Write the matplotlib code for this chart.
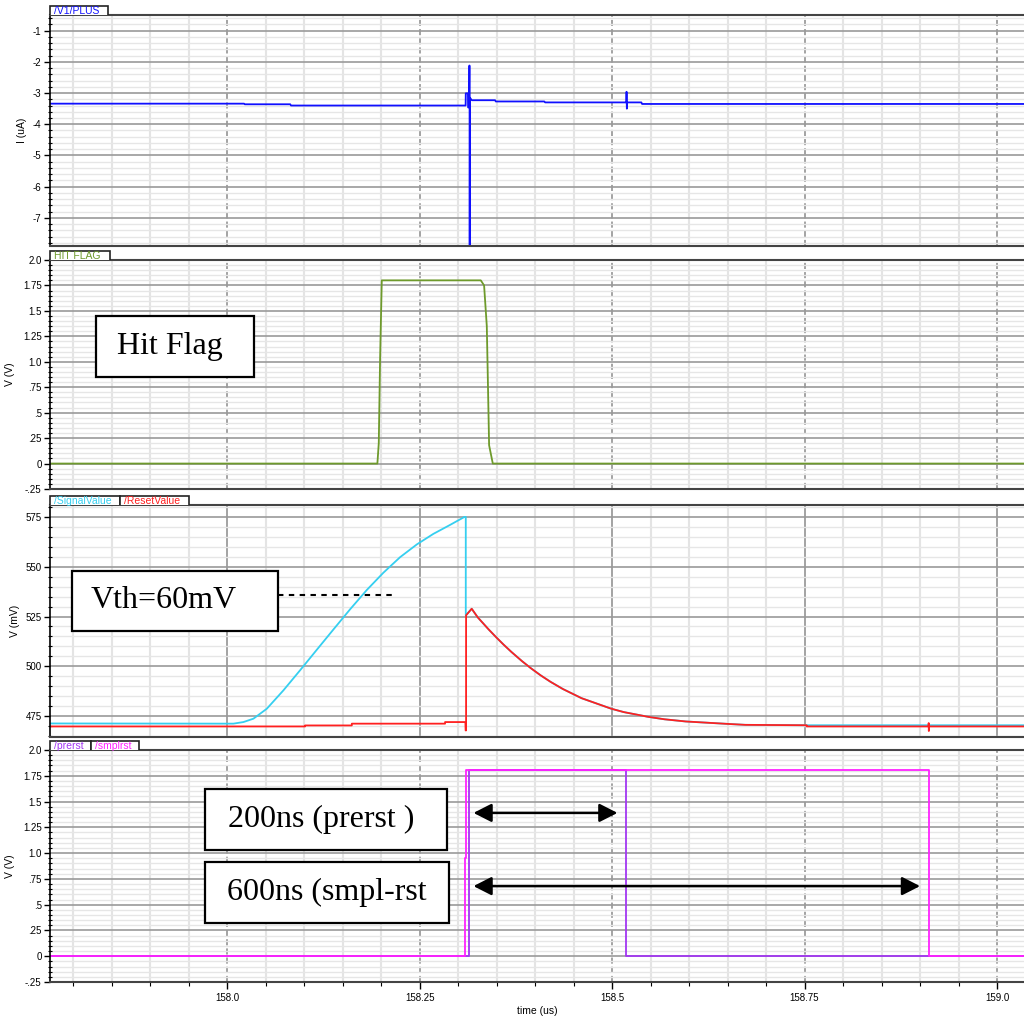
import matplotlib
matplotlib.use("Agg")
import matplotlib.pyplot as plt
from matplotlib.patches import Rectangle, Polygon
from matplotlib.ticker import MultipleLocator, FixedLocator

# ---------------- data (time in us) ----------------
t_plus = [157.77, 158.022, 158.023, 158.082, 158.083, 158.3098, 158.3100, 158.3128, 158.3130,
          158.3144, 158.3146, 158.3149, 158.3151, 158.3154, 158.3178, 158.348, 158.349,
          158.412, 158.413, 158.5185, 158.5188, 158.5192, 158.5196, 158.538, 158.539, 159.04]
i_plus = [-3.34, -3.34, -3.36, -3.36, -3.40, -3.40, -3.01, -3.01, -3.46,
          -3.46, -2.12, -2.12, -8.50, -3.15, -3.23, -3.23, -3.27,
          -3.27, -3.30, -3.30, -2.96, -3.50, -3.30, -3.30, -3.35, -3.35]

t_hit = [157.77, 158.1952, 158.1970, 158.1987, 158.2009, 158.3295, 158.3338, 158.3373,
         158.3386, 158.3403, 158.3451, 159.04]
v_hit = [0.0, 0.0, 0.20, 1.02, 1.80, 1.80, 1.75, 1.35, 0.85, 0.18, 0.0, 0.0]

t_decay = [158.3177, 158.3255, 158.3395, 158.3497, 158.3588, 158.3693, 158.3830, 158.3947,
           158.4071, 158.4201, 158.4361, 158.4603, 158.4990, 158.5153, 158.5473, 158.5680,
           158.5956, 158.6536, 158.6730, 158.7527]
v_decay = [528.9, 524.6, 518.6, 514.5, 511.0, 507.2, 502.6, 499.0,
           495.5, 492.2, 488.6, 484.0, 478.7, 477.0, 474.6, 473.4,
           472.3, 471.0, 470.6, 470.4]

t_sig_rise = [157.77, 158.0082, 158.0212, 158.0342, 158.0516, 158.0731, 158.0948, 158.1165,
              158.1381, 158.1597, 158.1814, 158.2030, 158.2247, 158.2464, 158.2679,
              158.2896, 158.3082, 158.3100, 158.3100]
v_sig_rise = [471.3, 471.2, 472.0, 473.7, 478.7, 487.9, 498.0, 508.3, 518.5, 528.6, 538.3,
              547.0, 554.8, 561.2, 566.5, 571.0, 575.0, 575.0, 525.6]
t_sig_tail = [158.7527, 159.04]
v_sig_tail = [470.4, 470.4]

t_rst_base = [157.77, 158.1013, 158.1013, 158.162, 158.162, 158.2831, 158.2831, 158.3095,
              158.3098, 158.3104, 158.3104]
v_rst_base = [469.8, 469.8, 470.3, 470.3, 471.2, 471.2, 472.0, 472.0, 467.8, 467.8, 525.6]
t_rst_tail = [158.7527, 158.7527, 158.9110, 158.9112, 158.9114, 158.9116, 159.04]
v_rst_tail = [470.4, 469.8, 469.8, 471.5, 467.5, 469.8, 469.8]

t_prerst = [157.77, 158.3143, 158.3143, 158.5182, 158.5182, 159.04]
v_prerst = [0.0, 0.0, 1.81, 1.81, 0.0, 0.0]
t_smplrst = [157.77, 158.3090, 158.3090, 158.3104, 158.3104, 158.9117, 158.9117, 159.04]
v_smplrst = [0.0, 0.0, 0.95, 0.95, 1.81, 1.81, 0.0, 0.0]

vth_level = 535.7
vth_span = (158.066, 158.218)
arrow_prerst = (158.320, 158.507, 1.39)
arrow_smplrst = (158.320, 158.900, 0.68)

x_ticks = [158.0, 158.25, 158.5, 158.75, 159.0]
x_ticklabels = ["158.0", "158.25", "158.5", "158.75", "159.0"]
i_ticks = [-1, -2, -3, -4, -5, -6, -7]
i_ticklabels = ["-1", "-2", "-3", "-4", "-5", "-6", "-7"]
v_ticks = [2.0, 1.75, 1.5, 1.25, 1.0, 0.75, 0.5, 0.25, 0.0, -0.25]
v_ticklabels = ["2.0", "1.75", "1.5", "1.25", "1.0", ".75", ".5", ".25", "0", "-.25"]
mv_ticks = [475, 500, 525, 550, 575]
mv_ticklabels = ["475", "500", "525", "550", "575"]

# ---------------- figure layout ----------------
W, H = 1024, 1021
fig = plt.figure(figsize=(W / 100, H / 100), dpi=100)
SANS = ["Liberation Sans", "DejaVu Sans"]
SERIF = ["Liberation Serif", "DejaVu Serif"]
plt.rcParams["font.family"] = SANS

LEFT, RIGHT = 50, 1024
panels_px = [(15, 246), (260, 489), (505, 737), (750, 982)]


def px(x, y):
    return (x / W, 1 - y / H)


def make_axes(top, bottom):
    return fig.add_axes([LEFT / W, 1 - bottom / H, (RIGHT - LEFT) / W, (bottom - top) / H])


def style_axes(ax, ylim, yticks, ylabels, yminor, ylabel, label_x, dashed_major=True):
    ax.set_xlim(157.77, 159.035)
    ax.set_ylim(*ylim)
    ax.xaxis.set_major_locator(FixedLocator(x_ticks))
    ax.xaxis.set_minor_locator(MultipleLocator(0.05))
    ax.yaxis.set_major_locator(FixedLocator(yticks))
    ax.set_yticklabels(ylabels)
    ax.yaxis.set_minor_locator(MultipleLocator(yminor))
    ax.set_axisbelow(True)
    ax.grid(which="minor", axis="x", color="#E4E4E4", lw=1.5)
    ax.grid(which="major", axis="x", color="#8A8A8A", lw=1.1,
            ls=(0, (4, 2)) if dashed_major else "-")
    ax.grid(which="minor", axis="y", color="#E6E6E6", lw=1.0)
    ax.grid(which="major", axis="y", color="#9A9A9A", lw=1.2)
    ax.spines["right"].set_visible(False)
    ax.spines["left"].set_color("black")
    ax.spines["left"].set_linewidth(1.2)
    for s in ("top", "bottom"):
        ax.spines[s].set_color("#444444")
        ax.spines[s].set_linewidth(1.5)
    ax.tick_params(axis="y", which="major", direction="out", length=4, width=1,
                   labelsize=7, pad=2, colors="black")
    ax.tick_params(axis="y", which="minor", direction="inout", length=3, width=0.8)
    ax.tick_params(axis="x", which="both", bottom=False, labelbottom=False)
    ax.set_ylabel(ylabel, fontsize=7.5)
    ax.yaxis.set_label_coords(label_x, 0.5)


def draw_tabs(top_px, tabs):
    th = 9
    for x0, x1, label, color in tabs:
        poly = Polygon([px(x0, top_px), px(x0, top_px - th), px(x1, top_px - th), px(x1, top_px)],
                       closed=False, facecolor="white", edgecolor="#222222", lw=1.2,
                       transform=fig.transFigure, zorder=5)
        fig.add_artist(poly)
        fig.text(*px(x0 + 4, top_px - th / 2 + 0.5), label, color=color, fontsize=7.5,
                 ha="left", va="center", zorder=6)


def note_box(x0, y0, x1, y1, text, tx):
    rect = Rectangle(px(x0, y1), (x1 - x0) / W, (y1 - y0) / H, facecolor="white",
                     edgecolor="black", lw=1.6, transform=fig.transFigure, zorder=7)
    fig.add_artist(rect)
    fig.text(*px(tx, (y0 + y1) / 2), text, family=SERIF, fontsize=23, ha="center",
             va="center", color="black", zorder=8)


# ---- panel 1: current ----
ax1 = make_axes(*panels_px[0])
style_axes(ax1, (-7.9, -0.5), i_ticks, i_ticklabels, 0.2, "I (uA)", -0.024)
ax1.plot(t_plus, i_plus, color="#1010FF", lw=1.3)

# ---- panel 2: hit flag ----
ax2 = make_axes(*panels_px[1])
style_axes(ax2, (-0.25, 2.0), v_ticks, v_ticklabels, 0.05, "V (V)", -0.036)
ax2.plot(t_hit, v_hit, color="#6E9A2C", lw=1.3)

# ---- panel 3: signal / reset value ----
ax3 = make_axes(*panels_px[2])
style_axes(ax3, (464.5, 581.0), mv_ticks, mv_ticklabels, 5, "V (mV)", -0.031,
           dashed_major=False)
ax3.plot(t_sig_rise + t_decay + t_sig_tail, v_sig_rise + v_decay + v_sig_tail,
         color="#35CFF0", lw=1.3)
ax3.plot(t_rst_base + t_decay + t_rst_tail, v_rst_base + v_decay + v_rst_tail,
         color="#FF2020", lw=1.3)
ax3.hlines(vth_level, *vth_span, colors="black", lw=1.5, linestyles=(0, (2.6, 2.6)), zorder=6)

# ---- panel 4: reset pulses ----
ax4 = make_axes(*panels_px[3])
style_axes(ax4, (-0.25, 2.0), v_ticks, v_ticklabels, 0.05, "V (V)", -0.036)
ax4.plot(t_prerst, v_prerst, color="#A236F2", lw=1.3)
ax4.plot(t_smplrst, v_smplrst, color="#FF22FF", lw=1.3)
ax4.tick_params(axis="x", which="major", bottom=True, labelbottom=True, direction="out",
                length=5, width=1, labelsize=7, pad=3)
ax4.tick_params(axis="x", which="minor", bottom=True, direction="out", length=3, width=0.8)
ax4.set_xticklabels(x_ticklabels)
ax4.set_xlabel("time (us)", fontsize=7.5, labelpad=2)

for (x0, x1, y) in (arrow_prerst, arrow_smplrst):
    ax4.annotate("", xy=(x1, y), xytext=(x0, y),
                 arrowprops=dict(arrowstyle="<|-|>,head_length=0.55,head_width=0.28",
                                 mutation_scale=20, lw=1.8, color="black",
                                 shrinkA=0, shrinkB=0), zorder=9)

# ---- signal-name tabs ----
draw_tabs(15, [(50, 108, "/V1/PLUS", "#1010FF")])
draw_tabs(260, [(50, 110, "HIT FLAG", "#6E9A2C")])
draw_tabs(505, [(50, 120, "/SignalValue", "#35CFF0"), (120, 189, "/ResetValue", "#FF2020")])
draw_tabs(750, [(50, 91, "/prerst", "#A236F2"), (91, 139, "/smplrst", "#FF22FF")])

# ---- annotation boxes ----
note_box(96, 316, 254, 377, "Hit Flag", 170)
note_box(72, 571, 278, 631, "Vth=60mV", 164)
note_box(205, 789, 447, 850, "200ns (prerst )", 321)
note_box(205, 862, 449, 923, "600ns (smpl-rst", 327)

fig.savefig("out.png", dpi=100)
